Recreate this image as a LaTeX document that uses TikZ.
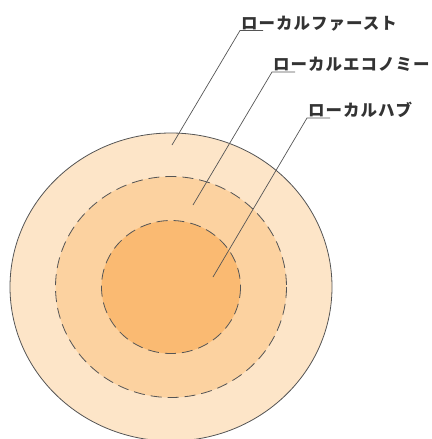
\documentclass[tikz,border=0pt]{standalone}
\usepackage{fontspec}
\newfontfamily\jpfont{Noto Sans CJK JP}[LetterSpace=6]
\usetikzlibrary{positioning,calc}
\definecolor{ringout}{HTML}{FDE5C8}
\definecolor{ringmid}{HTML}{FCD2A0}
\definecolor{ringin}{HTML}{FABA72}
\definecolor{leadgray}{HTML}{555555}
\definecolor{textgray}{HTML}{333333}
\tikzset{
  ring/.style={draw=leadgray,line width=0.8pt},
  dashring/.style={draw=leadgray,line width=0.8pt,dash pattern=on 11pt off 6pt},
  leader/.style={draw=leadgray,line width=0.7pt},
  labeltext/.style={anchor=base west,inner sep=0pt,text=textgray,
    font=\jpfont\bfseries\fontsize{16.5pt}{19pt}\selectfont}
}
\begin{document}
\begin{tikzpicture}[x=1pt,y=-1pt]
  \useasboundingbox (0,0) rectangle (431,439);
  % rings
  \fill[ringout] (171,287) ellipse [x radius=161,y radius=154];
  \draw[ring] (171,287) ellipse [x radius=161,y radius=154];
  \fill[ringmid] (171,287) ellipse [x radius=115.5,y radius=110.5];
  \draw[dashring] (171,287) ellipse [x radius=115.5,y radius=110.5];
  \fill[ringin] (171,287) ellipse [x radius=69.5,y radius=66.5];
  \draw[dashring] (171,287) ellipse [x radius=69.5,y radius=66.5];
  % labels
  \node[labeltext] (first) at (241,29) {ローカルファースト};
  \node[labeltext] (economy) at (273,70.5) {ローカルエコノミー};
  \node[labeltext] (hub) at (308,116.5) {ローカルハブ};
  \coordinate (firstend) at (172,145);
  \coordinate (economyend) at (193,205);
  \coordinate (hubend) at (213,277);
  \draw[leader] ($(first.base west)+(22,1.5)$) -- ($(first.base west)+(-1,1.5)$) -- (firstend);
  \draw[leader] ($(economy.base west)+(22,1.5)$) -- ($(economy.base west)+(-1,1.5)$) -- (economyend);
  \draw[leader] ($(hub.base west)+(22,1.5)$) -- ($(hub.base west)+(-1,1.5)$) -- (hubend);
\end{tikzpicture}
\end{document}
